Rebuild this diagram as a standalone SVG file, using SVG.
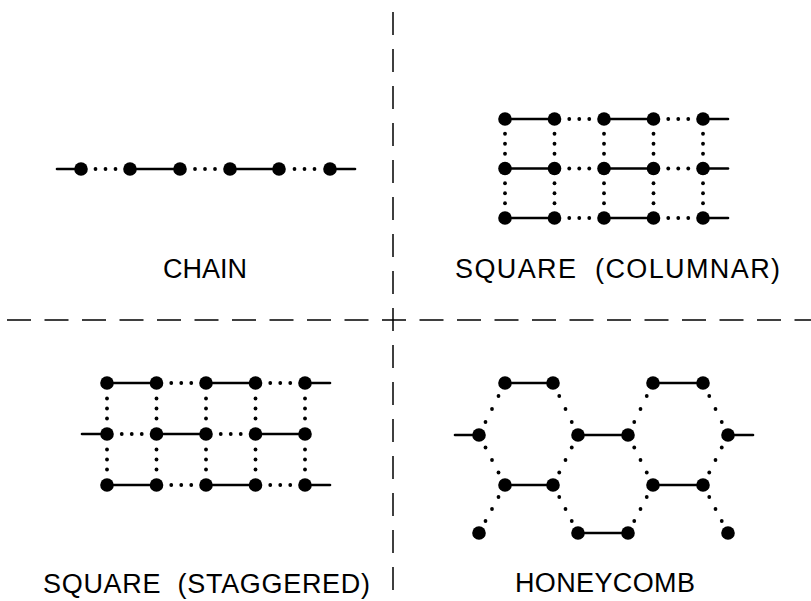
<svg xmlns="http://www.w3.org/2000/svg" width="811" height="601" viewBox="0 0 811 601">
<style>
.bg{fill:#fff}
.div{stroke:#000;stroke-width:1.5;fill:none}
.bond{stroke:#000;stroke-width:2.6;stroke-linecap:round}
.atom{fill:#000}
.dot{fill:#000}
.lbl{font-family:"Liberation Sans",Arial,sans-serif;font-size:27px;fill:#000}
</style>
<defs>
<circle id="a" r="6.8"/>
<circle id="d" r="1.9"/>
</defs>
<rect class="bg" x="0" y="0" width="811" height="601"/>
<g id="dividers">
<line class="div" x1="393" y1="0" x2="393" y2="601" stroke-dasharray="23 14" stroke-dashoffset="25"/>
<line class="div" x1="0" y1="320" x2="811" y2="320" stroke-dasharray="24 13.5" stroke-dashoffset="30.5"/>
</g>

<g id="chain">
<g id="chain-connectors">
<line class="bond" x1="57" y1="169" x2="81" y2="169"/>
<line class="bond" x1="130" y1="169" x2="180" y2="169"/>
<line class="bond" x1="230" y1="169" x2="279" y2="169"/>
<line class="bond" x1="330" y1="169" x2="355" y2="169"/>
<g class="dot">
<use href="#d" x="95.5" y="169"/><use href="#d" x="105.5" y="169"/><use href="#d" x="115.5" y="169"/>
<use href="#d" x="195" y="169"/><use href="#d" x="205" y="169"/><use href="#d" x="215" y="169"/>
<use href="#d" x="294.5" y="169"/><use href="#d" x="304.5" y="169"/><use href="#d" x="314.5" y="169"/>
</g>
</g>
<g class="atom">
<use href="#a" x="81" y="169"/><use href="#a" x="130" y="169"/><use href="#a" x="180" y="169"/>
<use href="#a" x="230" y="169"/><use href="#a" x="279" y="169"/><use href="#a" x="330" y="169"/>
</g>
<text class="lbl" x="163" y="278" textLength="84" lengthAdjust="spacing">CHAIN</text>
</g>

<g id="square-columnar">
<g id="columnar-connectors">
<line class="bond" x1="505" y1="119" x2="554.5" y2="119"/>
<line class="bond" x1="604" y1="119" x2="653.5" y2="119"/>
<line class="bond" x1="703" y1="119" x2="728" y2="119"/>
<line class="bond" x1="505" y1="168.5" x2="554.5" y2="168.5"/>
<line class="bond" x1="604" y1="168.5" x2="653.5" y2="168.5"/>
<line class="bond" x1="703" y1="168.5" x2="728" y2="168.5"/>
<line class="bond" x1="505" y1="218" x2="554.5" y2="218"/>
<line class="bond" x1="604" y1="218" x2="653.5" y2="218"/>
<line class="bond" x1="703" y1="218" x2="728" y2="218"/>
<g class="dot">
<use href="#d" x="569.25" y="119"/><use href="#d" x="579.25" y="119"/><use href="#d" x="589.25" y="119"/>
<use href="#d" x="668.25" y="119"/><use href="#d" x="678.25" y="119"/><use href="#d" x="688.25" y="119"/>
<use href="#d" x="569.25" y="168.5"/><use href="#d" x="579.25" y="168.5"/><use href="#d" x="589.25" y="168.5"/>
<use href="#d" x="668.25" y="168.5"/><use href="#d" x="678.25" y="168.5"/><use href="#d" x="688.25" y="168.5"/>
<use href="#d" x="569.25" y="218"/><use href="#d" x="579.25" y="218"/><use href="#d" x="589.25" y="218"/>
<use href="#d" x="668.25" y="218"/><use href="#d" x="678.25" y="218"/><use href="#d" x="688.25" y="218"/>
<use href="#d" x="505" y="133.75"/><use href="#d" x="505" y="143.75"/><use href="#d" x="505" y="153.75"/>
<use href="#d" x="505" y="183.25"/><use href="#d" x="505" y="193.25"/><use href="#d" x="505" y="203.25"/>
<use href="#d" x="554.5" y="133.75"/><use href="#d" x="554.5" y="143.75"/><use href="#d" x="554.5" y="153.75"/>
<use href="#d" x="554.5" y="183.25"/><use href="#d" x="554.5" y="193.25"/><use href="#d" x="554.5" y="203.25"/>
<use href="#d" x="604" y="133.75"/><use href="#d" x="604" y="143.75"/><use href="#d" x="604" y="153.75"/>
<use href="#d" x="604" y="183.25"/><use href="#d" x="604" y="193.25"/><use href="#d" x="604" y="203.25"/>
<use href="#d" x="653.5" y="133.75"/><use href="#d" x="653.5" y="143.75"/><use href="#d" x="653.5" y="153.75"/>
<use href="#d" x="653.5" y="183.25"/><use href="#d" x="653.5" y="193.25"/><use href="#d" x="653.5" y="203.25"/>
<use href="#d" x="703" y="133.75"/><use href="#d" x="703" y="143.75"/><use href="#d" x="703" y="153.75"/>
<use href="#d" x="703" y="183.25"/><use href="#d" x="703" y="193.25"/><use href="#d" x="703" y="203.25"/>
</g>
</g>
<g class="atom">
<use href="#a" x="505" y="119"/><use href="#a" x="554.5" y="119"/><use href="#a" x="604" y="119"/><use href="#a" x="653.5" y="119"/><use href="#a" x="703" y="119"/>
<use href="#a" x="505" y="168.5"/><use href="#a" x="554.5" y="168.5"/><use href="#a" x="604" y="168.5"/><use href="#a" x="653.5" y="168.5"/><use href="#a" x="703" y="168.5"/>
<use href="#a" x="505" y="218"/><use href="#a" x="554.5" y="218"/><use href="#a" x="604" y="218"/><use href="#a" x="653.5" y="218"/><use href="#a" x="703" y="218"/>
</g>
<text class="lbl" x="455" y="278" textLength="325" lengthAdjust="spacing" xml:space="preserve">SQUARE  (COLUMNAR)</text>
</g>

<g id="square-staggered">
<g id="staggered-connectors">
<line class="bond" x1="107" y1="383" x2="156.5" y2="383"/>
<line class="bond" x1="206" y1="383" x2="255.5" y2="383"/>
<line class="bond" x1="305" y1="383" x2="330" y2="383"/>
<line class="bond" x1="82" y1="434" x2="107" y2="434"/>
<line class="bond" x1="156.5" y1="434" x2="206" y2="434"/>
<line class="bond" x1="255.5" y1="434" x2="305" y2="434"/>
<line class="bond" x1="107" y1="485" x2="156.5" y2="485"/>
<line class="bond" x1="206" y1="485" x2="255.5" y2="485"/>
<line class="bond" x1="305" y1="485" x2="330" y2="485"/>
<g class="dot">
<use href="#d" x="171.25" y="383"/><use href="#d" x="181.25" y="383"/><use href="#d" x="191.25" y="383"/>
<use href="#d" x="270.25" y="383"/><use href="#d" x="280.25" y="383"/><use href="#d" x="290.25" y="383"/>
<use href="#d" x="121.75" y="434"/><use href="#d" x="131.75" y="434"/><use href="#d" x="141.75" y="434"/>
<use href="#d" x="220.75" y="434"/><use href="#d" x="230.75" y="434"/><use href="#d" x="240.75" y="434"/>
<use href="#d" x="171.25" y="485"/><use href="#d" x="181.25" y="485"/><use href="#d" x="191.25" y="485"/>
<use href="#d" x="270.25" y="485"/><use href="#d" x="280.25" y="485"/><use href="#d" x="290.25" y="485"/>
<use href="#d" x="107" y="398.5"/><use href="#d" x="107" y="408.5"/><use href="#d" x="107" y="418.5"/>
<use href="#d" x="107" y="449.5"/><use href="#d" x="107" y="459.5"/><use href="#d" x="107" y="469.5"/>
<use href="#d" x="156.5" y="398.5"/><use href="#d" x="156.5" y="408.5"/><use href="#d" x="156.5" y="418.5"/>
<use href="#d" x="156.5" y="449.5"/><use href="#d" x="156.5" y="459.5"/><use href="#d" x="156.5" y="469.5"/>
<use href="#d" x="206" y="398.5"/><use href="#d" x="206" y="408.5"/><use href="#d" x="206" y="418.5"/>
<use href="#d" x="206" y="449.5"/><use href="#d" x="206" y="459.5"/><use href="#d" x="206" y="469.5"/>
<use href="#d" x="255.5" y="398.5"/><use href="#d" x="255.5" y="408.5"/><use href="#d" x="255.5" y="418.5"/>
<use href="#d" x="255.5" y="449.5"/><use href="#d" x="255.5" y="459.5"/><use href="#d" x="255.5" y="469.5"/>
<use href="#d" x="305" y="398.5"/><use href="#d" x="305" y="408.5"/><use href="#d" x="305" y="418.5"/>
<use href="#d" x="305" y="449.5"/><use href="#d" x="305" y="459.5"/><use href="#d" x="305" y="469.5"/>
</g>
</g>
<g class="atom">
<use href="#a" x="107" y="383"/><use href="#a" x="156.5" y="383"/><use href="#a" x="206" y="383"/><use href="#a" x="255.5" y="383"/><use href="#a" x="305" y="383"/>
<use href="#a" x="107" y="434"/><use href="#a" x="156.5" y="434"/><use href="#a" x="206" y="434"/><use href="#a" x="255.5" y="434"/><use href="#a" x="305" y="434"/>
<use href="#a" x="107" y="485"/><use href="#a" x="156.5" y="485"/><use href="#a" x="206" y="485"/><use href="#a" x="255.5" y="485"/><use href="#a" x="305" y="485"/>
</g>
<text class="lbl" x="43" y="593" textLength="327" lengthAdjust="spacing" xml:space="preserve">SQUARE  (STAGGERED)</text>
</g>

<g id="honeycomb">
<g id="honeycomb-connectors">
<line class="bond" x1="505" y1="383" x2="553" y2="383"/>
<line class="bond" x1="653" y1="383" x2="703" y2="383"/>
<line class="bond" x1="455" y1="435" x2="479" y2="435"/>
<line class="bond" x1="578" y1="435" x2="628" y2="435"/>
<line class="bond" x1="728" y1="435" x2="753" y2="435"/>
<line class="bond" x1="505" y1="485" x2="553" y2="485"/>
<line class="bond" x1="653" y1="485" x2="703" y2="485"/>
<line class="bond" x1="578" y1="533" x2="628" y2="533"/>
<g class="dot">
<use href="#d" x="485.5" y="422"/><use href="#d" x="492" y="409"/><use href="#d" x="498.5" y="396"/>
<use href="#d" x="559.25" y="396"/><use href="#d" x="565.5" y="409"/><use href="#d" x="571.75" y="422"/>
<use href="#d" x="634.25" y="422"/><use href="#d" x="640.5" y="409"/><use href="#d" x="646.75" y="396"/>
<use href="#d" x="709.25" y="396"/><use href="#d" x="715.5" y="409"/><use href="#d" x="721.75" y="422"/>
<use href="#d" x="485.5" y="447.5"/><use href="#d" x="492" y="460"/><use href="#d" x="498.5" y="472.5"/>
<use href="#d" x="571.75" y="447.5"/><use href="#d" x="565.5" y="460"/><use href="#d" x="559.25" y="472.5"/>
<use href="#d" x="634.25" y="447.5"/><use href="#d" x="640.5" y="460"/><use href="#d" x="646.75" y="472.5"/>
<use href="#d" x="721.75" y="447.5"/><use href="#d" x="715.5" y="460"/><use href="#d" x="709.25" y="472.5"/>
<use href="#d" x="498.5" y="497"/><use href="#d" x="492" y="509"/><use href="#d" x="485.5" y="521"/>
<use href="#d" x="559.25" y="497"/><use href="#d" x="565.5" y="509"/><use href="#d" x="571.75" y="521"/>
<use href="#d" x="646.75" y="497"/><use href="#d" x="640.5" y="509"/><use href="#d" x="634.25" y="521"/>
<use href="#d" x="709.25" y="497"/><use href="#d" x="715.5" y="509"/><use href="#d" x="721.75" y="521"/>
</g>
</g>
<g class="atom">
<use href="#a" x="505" y="383"/><use href="#a" x="553" y="383"/><use href="#a" x="653" y="383"/><use href="#a" x="703" y="383"/>
<use href="#a" x="479" y="435"/><use href="#a" x="578" y="435"/><use href="#a" x="628" y="435"/><use href="#a" x="728" y="435"/>
<use href="#a" x="505" y="485"/><use href="#a" x="553" y="485"/><use href="#a" x="653" y="485"/><use href="#a" x="703" y="485"/>
<use href="#a" x="479" y="533"/><use href="#a" x="578" y="533"/><use href="#a" x="628" y="533"/><use href="#a" x="728" y="533"/>
</g>
<text class="lbl" x="515" y="592" textLength="180" lengthAdjust="spacing">HONEYCOMB</text>
</g>
</svg>
